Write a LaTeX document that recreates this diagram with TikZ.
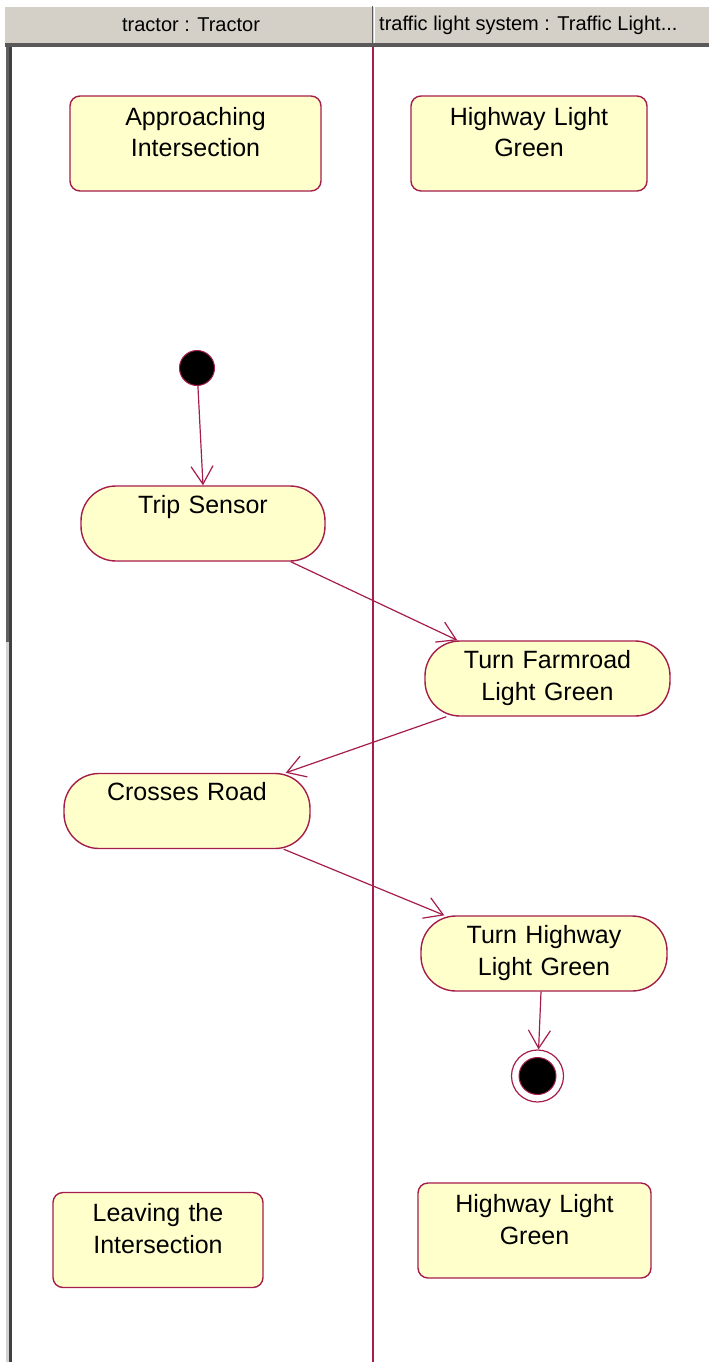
\documentclass[tikz,border=0pt]{standalone}
\usepackage{fontspec}
\setmainfont{Liberation Sans}
\usetikzlibrary{shapes.geometric, arrows, calc, positioning, arrows.meta}
\definecolor{umlred}{RGB}{165,30,75}
\definecolor{umlfill}{RGB}{255,255,204}
\definecolor{headgray}{RGB}{212,208,200}
\tikzstyle{statebox} = [rectangle, rounded corners=10pt, draw=umlred, line width=1.4pt, fill=umlfill, inner sep=0pt, align=center, text height=29pt, text depth=66pt, font=\fontsize{25}{32}\selectfont]
\tikzstyle{actbox} = [rectangle, rounded corners=35pt, draw=umlred, line width=1.4pt, fill=umlfill, inner sep=0pt, align=center, text height=27pt, text depth=48pt, font=\fontsize{25}{32}\selectfont]
\tikzstyle{startdot} = [circle, fill=black, draw=umlred, line width=1pt, minimum size=35pt, inner sep=0pt]
\tikzstyle{enddot} = [circle, fill=white, draw=umlred, line width=1.2pt, minimum size=52pt, inner sep=0pt, path picture={\filldraw[fill=black, draw=umlred, line width=1pt] (path picture bounding box.center) circle (18.5pt);}]
\tikzstyle{arrow} = [draw=umlred, line width=1.2pt, -{Straight Barb[length=18pt,width=22pt]}]
\tikzstyle{headtext} = [inner sep=0pt, font=\fontsize{20}{22}\selectfont]

\begin{document}
\begin{tikzpicture}[x=1pt, y=-1pt]
	\useasboundingbox (0,0) rectangle (709,1362);
	\fill[white] (0,0) rectangle (709,1362);
	% header of the swimlanes
	\fill[headgray] (5,6) rectangle (709,44);
	\draw[white, line width=1pt] (5,6.5) -- (709,6.5);
	\draw[gray!70!black, line width=1pt] (372,6) -- (372,44);
	\draw[white, line width=1pt] (374,6) -- (374,44);
	\fill[gray!70!black] (5,43) rectangle (709,47);
	\node[headtext] (lanetractor) at (191,25) {tractor : Tractor};
	\node[headtext, anchor=west] (lanetraffic) at (379,25) {traffic light system : Traffic Light...};
	\fill[gray!75!black] (6,47) rectangle (9,642);
	\fill[gray!35] (6,642) rectangle (9,1362);
	\fill[gray!50!black] (9,47) rectangle (12,1362);
	\draw[umlred, line width=1.3pt] (373,47) -- (373,1362);
	
	\node[statebox, text width=251pt] (approach) at (195.5,143.5) {Approaching\\Intersection};
	\node[statebox, text width=236pt] (hwgreen) at (529,143.5) {Highway Light\\Green};
	\node[startdot] (start) at (197,368) {};
	\node[actbox, text width=244pt] (trip) at (203,523.5) {Trip Sensor};
	\node[actbox, text width=245pt] (farm) at (547.5,678.5) {Turn Farmroad\\Light Green};
	\node[actbox, text width=246pt] (cross) at (187,811) {Crosses Road};
	\node[actbox, text width=246pt] (hwturn) at (544,953.5) {Turn Highway\\Light Green};
	\node[enddot] (stop) at (537.5,1076) {};
	\node[statebox, text width=210pt] (leave) at (158,1240) {Leaving the\\Intersection};
	\node[statebox, text width=233pt] (hwgreenb) at (534.5,1230.5) {Highway Light\\Green};
	
	\draw[arrow] (start) -- (trip.north);
	\draw[arrow] ([xshift=-35pt]trip.south east) -- ([xshift=33pt]farm.north west);
	\draw[arrow] ([xshift=22pt]farm.south west) -- ([xshift=-25pt]cross.north east);
	\draw[arrow] ([xshift=-27pt]cross.south east) -- ([xshift=24pt]hwturn.north west);
	\draw[arrow] ([xshift=-3pt]hwturn.south) -- (stop);
\end{tikzpicture}
\end{document}
